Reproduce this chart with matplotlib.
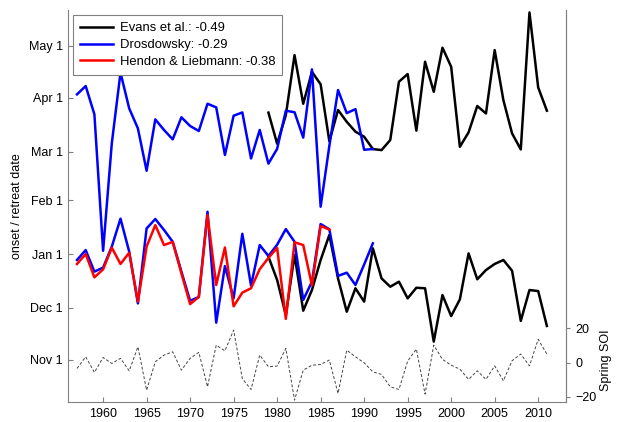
import matplotlib
matplotlib.use('Agg')
import matplotlib.pyplot as plt
import numpy as np

plt.rcParams['font.family'] = ['Liberation Sans', 'DejaVu Sans']
plt.rcParams['font.size'] = 9

# Days counted from 1 November
month_ticks = [0, 30, 61, 92, 120, 151, 181]
month_labels = ['Nov 1', 'Dec 1', 'Jan 1', 'Feb 1', 'Mar 1', 'Apr 1', 'May 1']

# Evans et al. (1979-2011)
evans_years = np.arange(1979, 2012)
evans_retreat = [142.5, 124.6, 141.0, 175.6, 147.6, 166.0, 158.8, 126.0, 144.0, 137.2,
                 131.5, 128.6, 121.5, 120.9, 126.7, 160.3, 164.7, 132.1, 171.8, 154.5,
                 179.9, 168.9, 122.8, 131.1, 146.3, 142.0, 178.5, 149.7, 130.5, 121.3,
                 200.2, 157.0, 143.6]
evans_onset = [59.5, 46.1, 25.9, 60.5, 28.4, 40.3, 57.6, 72.0, 47.0, 27.8,
               41.3, 33.6, 64.3, 47.0, 42.2, 45.1, 35.5, 41.6, 41.3, 10.6,
               37.4, 25.3, 34.9, 61.4, 46.5, 51.8, 55.3, 57.6, 51.4, 22.5,
               40.3, 39.7, 19.6]

# Drosdowsky (1957-1991)
dros_years = np.arange(1957, 1992)
dros_retreat = [153.0, 157.8, 141.5, 62.9, 124.8, 165.5, 144.9, 133.4, 109.0, 138.6,
                132.5, 127.1, 139.8, 134.8, 131.9, 147.6, 145.5, 118.1, 140.7, 142.6,
                116.1, 132.5, 113.1, 121.6, 143.6, 142.7, 128.1, 167.4, 88.3, 123.3,
                155.5, 142.2, 144.5, 121.1, 121.5]
dros_onset = [57.6, 63.3, 50.9, 53.2, 65.3, 81.4, 62.4, 32.6, 75.8, 81.2,
              74.9, 68.1, 50.9, 34.1, 36.3, 85.4, 21.5, 54.1, 35.5, 72.7,
              42.9, 66.2, 59.9, 66.4, 75.4, 68.1, 34.6, 45.1, 78.3, 75.3,
              48.4, 50.3, 43.2, 55.0, 67.2]

# Hendon & Liebmann (1957-1986)
hl_years = np.arange(1957, 1987)
hl_onset = [55.3, 61.0, 47.6, 52.2, 64.7, 55.3, 61.8, 33.6, 65.3, 77.7,
            66.2, 68.0, 49.9, 32.2, 36.3, 83.5, 43.2, 64.8, 30.9, 38.8,
            41.3, 52.3, 58.8, 64.6, 23.7, 67.8, 66.2, 43.0, 77.2, 75.1]

# Spring SOI (1957-2011)
soi_years = np.arange(1957, 2012)
soi = [-3.4, 3.4, -5.7, 3.0, -0.5, 2.5, -4.8, 9.2, -16.1, 0.5,
       4.4, 6.3, -4.4, 2.5, 6.0, -14.1, 10.2, 6.9, 19.0, -9.3,
       -15.7, 4.4, -2.4, -2.0, 8.3, -21.9, -4.4, -1.5, -1.1, 1.5,
       -18.0, 7.3, 3.4, -0.1, -5.4, -6.9, -14.1, -15.7, 0.9, 7.9,
       -18.4, 10.2, 1.9, -1.5, -3.8, -9.8, -4.8, -9.8, -1.9, -10.6,
       1.1, 5.0, -1.9, 13.6, 5.0]

axis_grey = '#808080'

fig = plt.figure(figsize=(6.18, 4.22), dpi=100)
ax = fig.add_axes([0.1105, 0.0474, 0.8054, 0.9289])

lw = 1.8
ax.plot(evans_years, evans_retreat, color='black', lw=lw, label='Evans et al.: -0.49')
ax.plot(evans_years, evans_onset, color='black', lw=lw)
ax.plot(dros_years, dros_retreat, color='blue', lw=lw, label='Drosdowsky: -0.29')
ax.plot(dros_years, dros_onset, color='blue', lw=lw)
ax.plot(hl_years, hl_onset, color='red', lw=lw, label='Hendon & Liebmann: -0.38')

ax.set_xlim(1956, 2013.2)
ax.set_ylim(-24.2, 201.6)
ax.set_xticks(np.arange(1960, 2011, 5))
ax.set_yticks(month_ticks)
ax.set_yticklabels(month_labels)
ax.set_ylabel('onset / retreat date', labelpad=4)
ax.spines['top'].set_visible(False)
for s in ['left', 'bottom', 'right']:
    ax.spines[s].set_color(axis_grey)
    ax.spines[s].set_linewidth(0.8)
ax.tick_params(direction='in', length=3.5, width=0.8, color=axis_grey, pad=4)

leg = ax.legend(loc='upper left', bbox_to_anchor=(0.010, 0.987), borderaxespad=0,
                fancybox=False, edgecolor=axis_grey, framealpha=1, fontsize=9.4,
                handlelength=2.5, labelspacing=0.35, borderpad=0.55, handletextpad=0.5)
leg.get_frame().set_linewidth(0.8)

# SOI on a second axis sharing the years
ax2 = ax.twinx()
ax2.plot(soi_years, soi, color='#444444', lw=0.7, ls=(0, (3, 2)))
ax2.set_ylim(-23, 206)
ax2.set_yticks([-20, 0, 20])
ax2.set_ylabel('Spring SOI')
ax2.yaxis.set_label_coords(1.068, 0.107)
for s in ['top', 'left', 'bottom']:
    ax2.spines[s].set_visible(False)
ax2.spines['right'].set_color(axis_grey)
ax2.spines['right'].set_linewidth(0.8)
ax2.tick_params(direction='out', length=3, width=0.8, color=axis_grey)

fig.savefig('out.png', dpi=100)
